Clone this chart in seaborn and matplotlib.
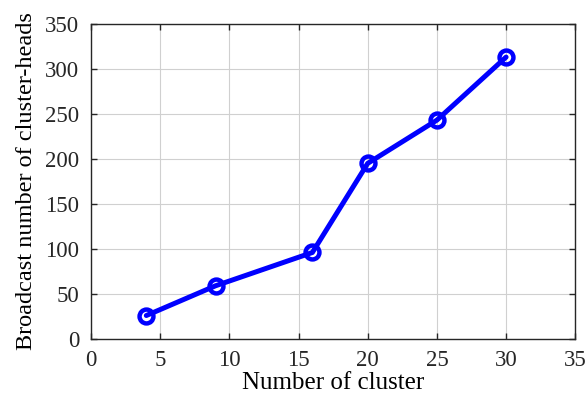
import matplotlib
matplotlib.use("Agg")
import matplotlib.pyplot as plt
import seaborn as sns
import pandas as pd

# values
num_cluster = [4, 9, 16, 20, 25, 30]
broadcast_heads = [26, 59, 96, 195, 243, 313]

x_ticks = [0, 5, 10, 15, 20, 25, 30, 35]
y_ticks = [0, 50, 100, 150, 200, 250, 300, 350]

sns.set_theme(style="whitegrid")
plt.rcParams['font.family'] = ['Liberation Serif', 'DejaVu Serif']

df = pd.DataFrame({"clusters": num_cluster, "heads": broadcast_heads})

dark = "#262626"
fig = plt.figure(figsize=(5.87, 4.03), dpi=100)
ax = fig.add_axes([0.155, 0.159, 0.825, 0.782])

sns.lineplot(data=df, x="clusters", y="heads", ax=ax, color="#0000ff",
             linewidth=3.6, marker="o", markersize=10, markeredgewidth=3.2,
             markerfacecolor="none", markeredgecolor="#0000ff")

ax.set_xlim(0, 35)
ax.set_ylim(0, 350)
ax.set_xticks(x_ticks)
ax.set_yticks(y_ticks)
ax.set_facecolor("white")
ax.grid(True, color="#d0d0d0", linewidth=0.8)

for s in ax.spines.values():
    s.set_color(dark)
    s.set_linewidth(1.0)
    s.set_visible(True)

ax.tick_params(direction="in", length=4, width=1.0, color=dark,
               labelcolor=dark, labelsize=16.5, top=True, right=True,
               bottom=True, left=True)
ax.tick_params(axis="x", pad=8)
ax.tick_params(axis="y", pad=8.5)

ax.set_xlabel("Number of cluster", fontsize=18, color="black", labelpad=1)
ax.set_ylabel("Broadcast number of cluster-heads", fontsize=17.5, color="black", labelpad=6)

fig.savefig("out.png", dpi=100)
